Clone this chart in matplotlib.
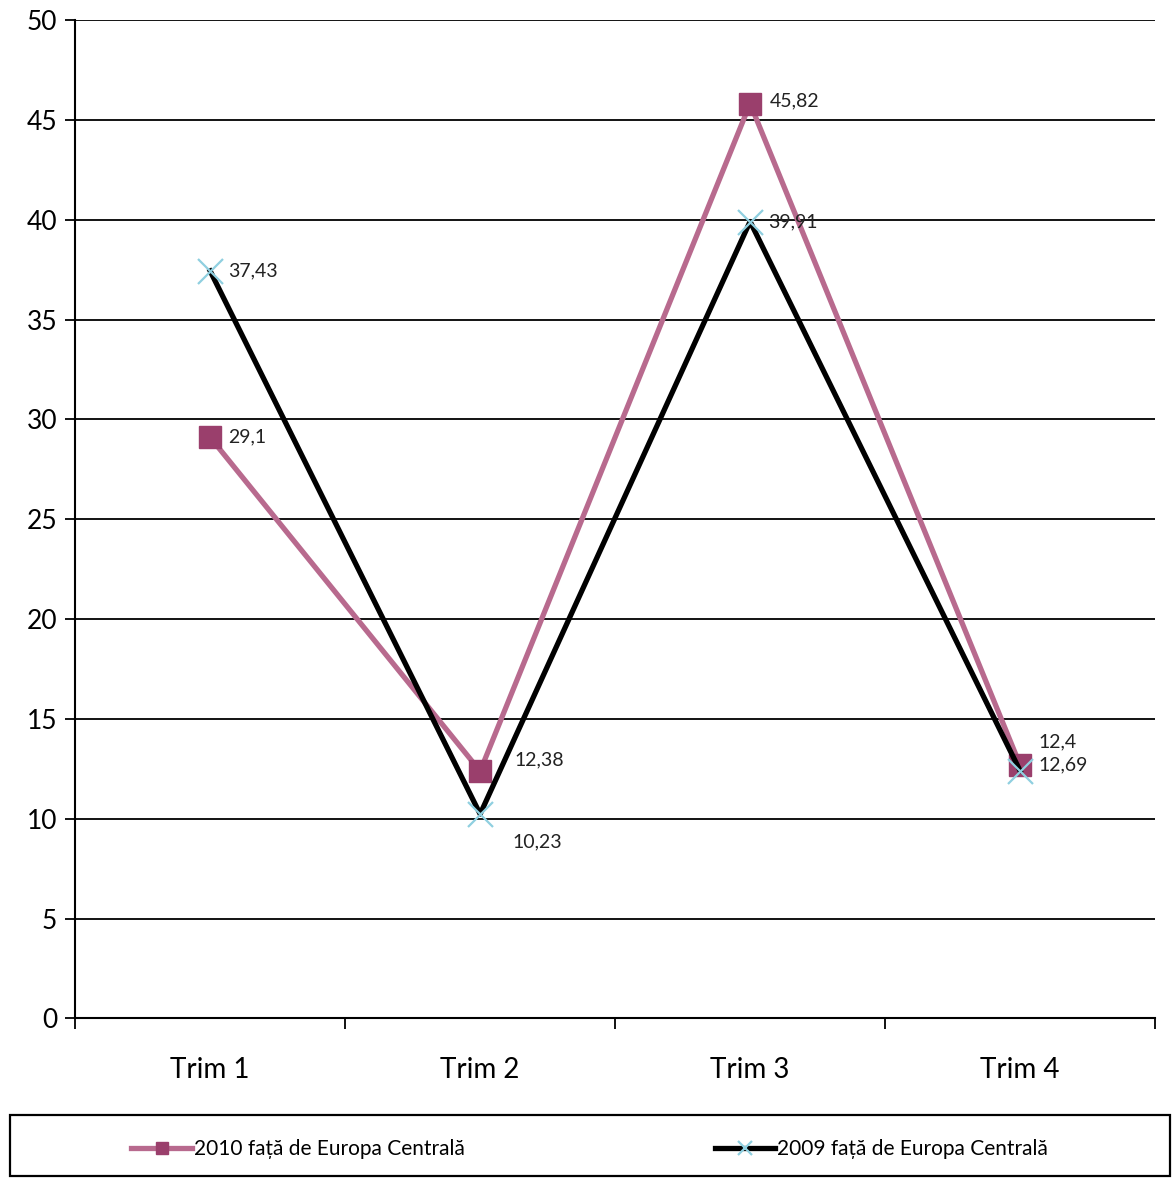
import matplotlib
matplotlib.use("Agg")
import numpy as np
from matplotlib import pyplot as plt
from matplotlib.patches import Rectangle

categories = ["Trim 1", "Trim 2", "Trim 3", "Trim 4"]
vals_2010 = [29.1, 12.38, 45.82, 12.69]
vals_2009 = [37.43, 10.23, 39.91, 12.4]
labels_2010 = ["29,1", "12,38", "45,82", "12,69"]
labels_2009 = ["37,43", "10,23", "39,91", "12,4"]
name_2010 = "2010 față de Europa Centrală"
name_2009 = "2009 față de Europa Centrală"

plt.rcParams["font.family"] = ["Lato", "DejaVu Sans"]

fig = plt.figure(figsize=(11.75, 11.8), dpi=100)
ax = fig.add_axes([0.064, 0.137, 0.919, 0.846])

x = np.arange(len(categories))
pink_line = "#B86A8E"
pink_mark = "#9A3F6C"
cross = "#8FCFE0"

l10, = ax.plot(x, vals_2010, color=pink_line, lw=3.8, marker="s", ms=16.5,
               mfc=pink_mark, mec=pink_mark, zorder=3, label=name_2010)
l09, = ax.plot(x, vals_2009, color="black", lw=3.8, marker="x", ms=18,
               mew=1.6, mec=cross, zorder=4, label=name_2009)

# data labels
off_2010 = [(13, 0), (25, 8), (14, 2), (13, 0)]
off_2009 = [(13, 0), (23, -20), (13, 0), (13, 21)]
for i in range(len(categories)):
    ax.annotate(labels_2010[i], (x[i], vals_2010[i]), xytext=off_2010[i],
                textcoords="offset points", fontsize=14, va="center", ha="left",
                color="#222222", zorder=5)
    ax.annotate(labels_2009[i], (x[i], vals_2009[i]), xytext=off_2009[i],
                textcoords="offset points", fontsize=14, va="center", ha="left",
                color="#222222", zorder=5)

ax.set_xlim(-0.5, 3.5)
ax.set_ylim(0, 50)
ax.set_yticks(np.arange(0, 51, 5))
ax.yaxis.grid(True, color="black", lw=1.3)
ax.set_axisbelow(True)
ax.set_xticks(x)
ax.set_xticklabels(categories, fontsize=20)
ax.set_xticks(np.arange(-0.5, 3.6, 1), minor=True)
ax.tick_params(axis="x", which="major", length=0, pad=28)
ax.tick_params(axis="x", which="minor", length=8, width=1.3, direction="out")
ax.tick_params(axis="y", labelsize=19, length=7, width=1.3, pad=6)
for s in ["top", "right"]:
    ax.spines[s].set_visible(False)
for s in ["left", "bottom"]:
    ax.spines[s].set_linewidth(1.5)

# legend box
fig.patches.append(Rectangle((0.0085, 0.003), 0.987, 0.052, transform=fig.transFigure,
                             fill=False, edgecolor="black", lw=1.6))
fig.legend(handles=[l10, l09], loc="center", bbox_to_anchor=(0.502, 0.026),
           ncol=2, frameon=False, fontsize=15, handlelength=2.9,
           columnspacing=12.0, handletextpad=0.1, markerscale=0.55)

fig.savefig("out.png", dpi=100)
